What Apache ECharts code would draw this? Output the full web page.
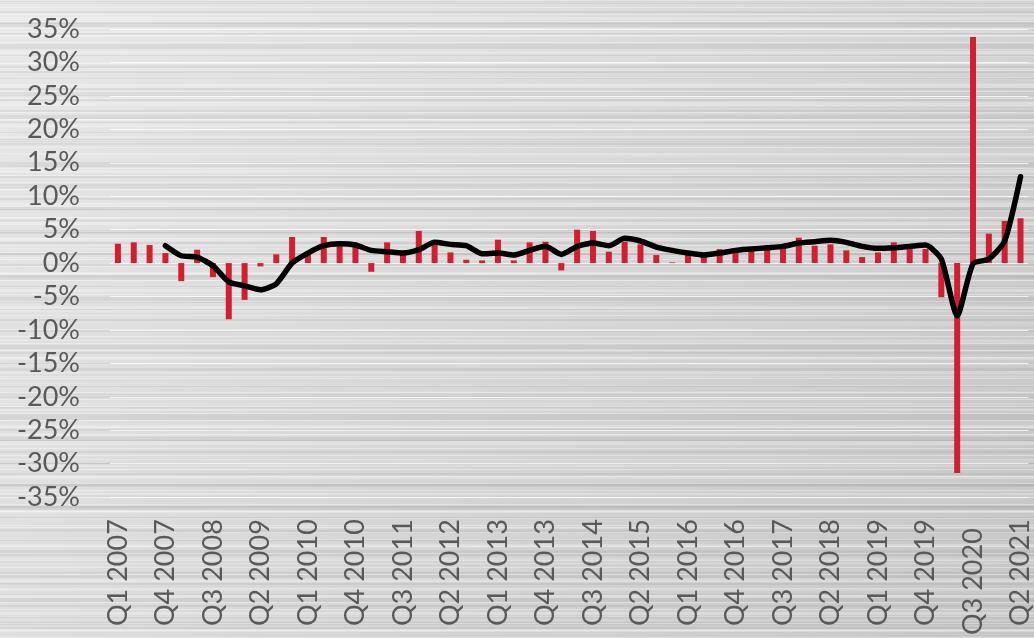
<!DOCTYPE html>
<html>
<head>
<meta charset="utf-8">
<script src="https://cdn.jsdelivr.net/npm/echarts@6/dist/echarts.min.js"></script>
<style>
  html, body { margin: 0; padding: 0; }
  body {
    width: 1034px; height: 638px; overflow: hidden;
    /* brushed-steel backdrop: fine horizontal streaks over a soft grey wash */
    background:
      repeating-linear-gradient(180deg, rgba(255,255,255,0.35) 0 1px, rgba(255,255,255,0) 1px 7px),
      repeating-linear-gradient(180deg, rgba(0,0,0,0.05) 0 2px, rgba(0,0,0,0) 2px 11px),
      repeating-linear-gradient(180deg, rgba(255,255,255,0.25) 0 3px, rgba(255,255,255,0) 3px 17px),
      repeating-linear-gradient(180deg, rgba(0,0,0,0.05) 0 4px, rgba(0,0,0,0) 4px 23px),
      repeating-linear-gradient(180deg, rgba(255,255,255,0.18) 0 2px, rgba(255,255,255,0) 2px 31px),
      linear-gradient(90deg, rgba(255,255,255,0.3), rgba(255,255,255,0.05) 40%, rgba(0,0,0,0.05) 100%),
      linear-gradient(180deg, #dfdfdf 0%, #d6d6d6 50%, #d1d1d1 100%);
  }
  #chart { width: 1034px; height: 638px; }
</style>
</head>
<body>
<div id="chart"></div>
<script>
// Quarter labels, Q1 2007 .. Q2 2021
const quarters = [
  'Q1 2007','Q2 2007','Q3 2007','Q4 2007',
  'Q1 2008','Q2 2008','Q3 2008','Q4 2008',
  'Q1 2009','Q2 2009','Q3 2009','Q4 2009',
  'Q1 2010','Q2 2010','Q3 2010','Q4 2010',
  'Q1 2011','Q2 2011','Q3 2011','Q4 2011',
  'Q1 2012','Q2 2012','Q3 2012','Q4 2012',
  'Q1 2013','Q2 2013','Q3 2013','Q4 2013',
  'Q1 2014','Q2 2014','Q3 2014','Q4 2014',
  'Q1 2015','Q2 2015','Q3 2015','Q4 2015',
  'Q1 2016','Q2 2016','Q3 2016','Q4 2016',
  'Q1 2017','Q2 2017','Q3 2017','Q4 2017',
  'Q1 2018','Q2 2018','Q3 2018','Q4 2018',
  'Q1 2019','Q2 2019','Q3 2019','Q4 2019',
  'Q1 2020','Q2 2020','Q3 2020','Q4 2020',
  'Q1 2021','Q2 2021'
];

// Quarterly growth, annualised (%)
const quarterlyGrowth = [
  2.9, 3.1, 2.7, 1.5,
  -2.7, 2.0, -2.1, -8.4,
  -5.5, -0.5, 1.3, 3.9,
  1.7, 3.9, 2.8, 2.4,
  -1.3, 3.1, 1.3, 4.8,
  2.7, 1.6, 0.5, 0.4,
  3.5, 0.4, 3.1, 3.2,
  -1.1, 5.0, 4.8, 1.7,
  3.2, 2.8, 1.2, 0.1,
  1.5, 1.3, 2.1, 2.0,
  2.0, 2.0, 2.8, 3.8,
  2.6, 2.8, 1.9, 0.9,
  1.6, 3.1, 2.6, 2.1,
  -5.1, -31.4, 33.8, 4.4,
  6.3, 6.7
];

// Year-over-year growth (%)
const yearOverYear = [
  null, null, null, 2.6,
  1.1, 0.9, -0.4, -2.8,
  -3.4, -4.0, -3.1, 0.0,
  1.5, 2.6, 2.9, 2.7,
  1.9, 1.7, 1.5, 2.0,
  3.1, 2.8, 2.6, 1.4,
  1.5, 1.2, 1.9, 2.5,
  1.3, 2.5, 3.0, 2.6,
  3.7, 3.3, 2.4, 1.9,
  1.5, 1.2, 1.5, 1.9,
  2.1, 2.3, 2.5, 3.0,
  3.2, 3.4, 3.1, 2.5,
  2.2, 2.3, 2.5, 2.7,
  0.6, -7.9, -0.1, 0.6,
  3.3, 12.9
];

const yTicks = { min: -35, max: 35, step: 5 };

const textColor = '#595959';
const fontFamily = 'Lato, "Open Sans", sans-serif';

const chart = echarts.init(document.getElementById('chart'), null, { renderer: 'canvas' });

chart.setOption({
  backgroundColor: 'transparent',
  animation: false,
  grid: { left: 110, right: 4, top: 29, bottom: 133, containLabel: false },
  xAxis: {
    type: 'category',
    data: quarters.map(q => q === 'Q3 2020'
      ? { value: q, textStyle: { padding: [0, 9, 0, 0] } }
      : q),
    boundaryGap: true,
    axisLine: { show: false },
    axisTick: { show: false },
    splitLine: { show: false },
    axisLabel: {
      interval: 2,
      rotate: 90,
      margin: 22,
      color: textColor,
      fontFamily: fontFamily,
      fontSize: 27
    }
  },
  yAxis: {
    type: 'value',
    min: yTicks.min,
    max: yTicks.max,
    interval: yTicks.step,
    axisLine: { show: false },
    axisTick: { show: false },
    splitLine: { show: true, lineStyle: { color: 'rgba(255,255,255,0.75)', width: 1 } },
    axisLabel: {
      margin: 30,
      color: textColor,
      fontFamily: fontFamily,
      fontSize: 27,
      formatter: v => v + '%'
    }
  },
  series: [
    {
      name: 'Quarterly',
      type: 'bar',
      data: quarterlyGrowth,
      barWidth: 6,
      itemStyle: { color: '#d21f2f' }
    },
    {
      name: 'Year over year',
      type: 'line',
      data: yearOverYear,
      smooth: 0.2,
      showSymbol: false,
      connectNulls: false,
      lineStyle: { color: '#000000', width: 5.5, cap: 'round', join: 'round' },
      z: 5
    }
  ]
});
</script>
</body>
</html>
